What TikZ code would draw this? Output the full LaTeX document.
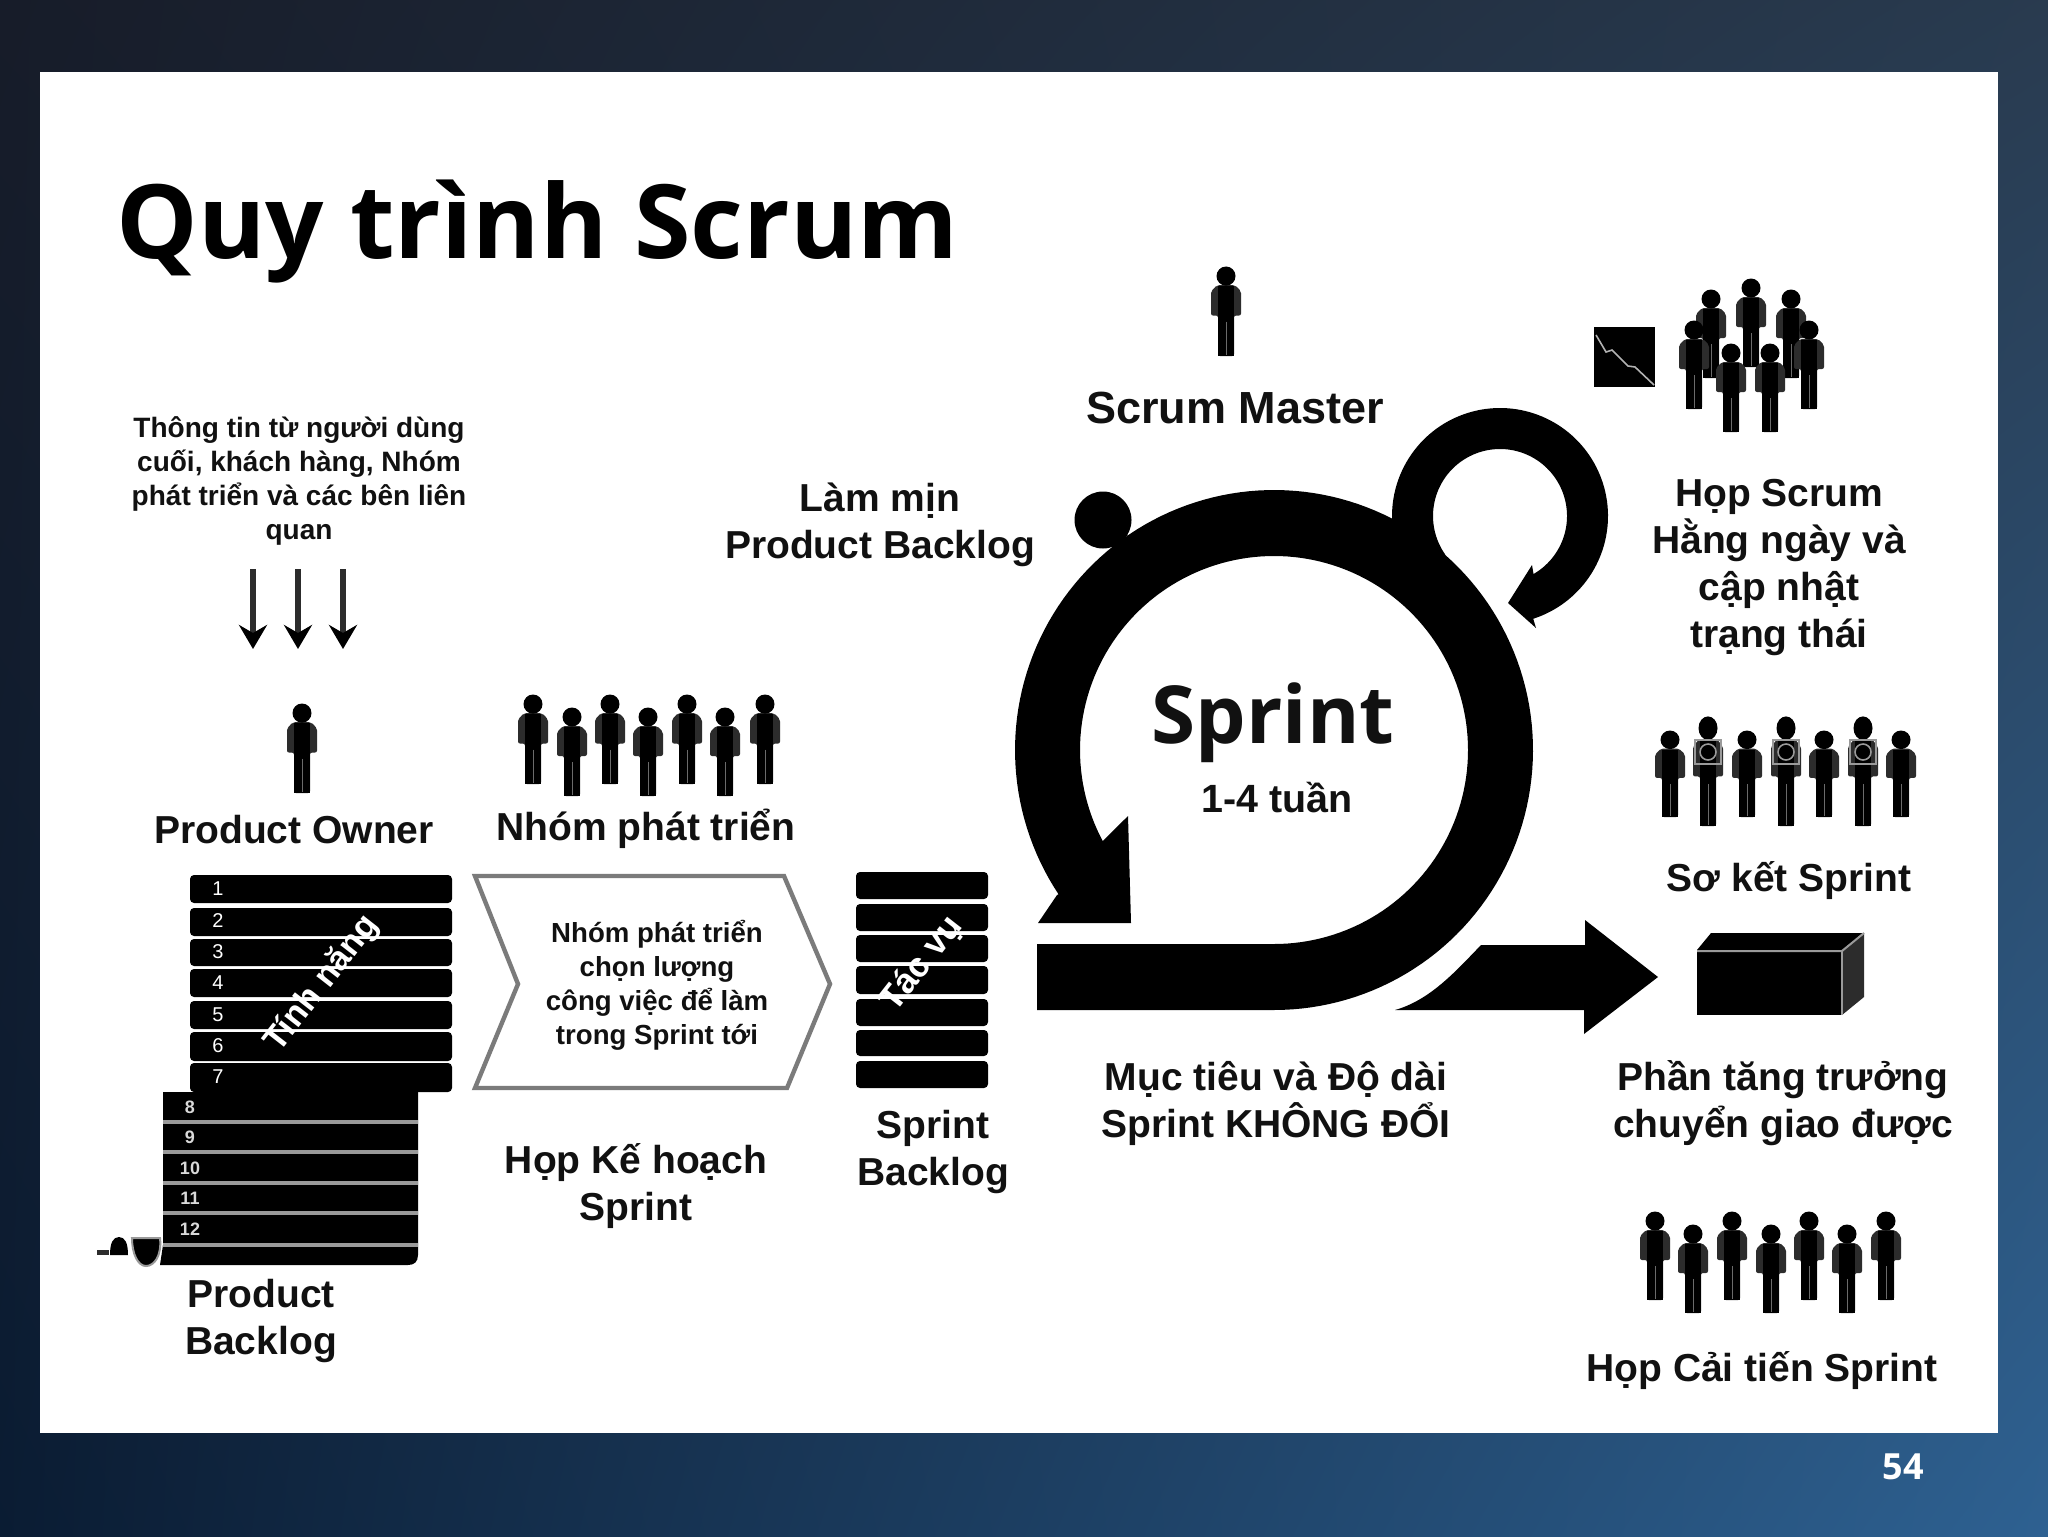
\documentclass[tikz,border=0pt]{standalone}
\usepackage{fontspec}
\setmainfont{Liberation Sans}
\newfontfamily\titlefont{Open Sans}
\usetikzlibrary{arrows.meta}
\pgfdeclarefunctionalshading{slidebg}{\pgfpointorigin}{\pgfpoint{100bp}{100bp}}{}{
 25 sub 50 div exch 25 sub 50 div exch
 2 copy 2 copy mul -0.07 mul 3 1 roll 0.05 mul exch 0.14 mul add add 0.04 add 3 1 roll
 2 copy 2 copy mul -0.15 mul 3 1 roll 0.0 mul exch 0.27 mul add add 0.11 add 3 1 roll
 2 copy mul -0.22 mul 3 1 roll -0.04 mul exch 0.37 mul add add 0.20 add
}
\definecolor{ink}{HTML}{111111}
\definecolor{armgrey}{HTML}{2C2C2C}
\definecolor{sepgrey}{HTML}{9A9A9A}
\tikzset{
  lbl/.style={font=\fontsize{19.5}{23.5}\selectfont\bfseries,text=ink,align=center,inner sep=0pt,yshift=-0.6pt},
  small/.style={font=\fontsize{14}{17}\selectfont\bfseries,text=ink,align=center,inner sep=0pt},
  rownum/.style={font=\fontsize{10}{10}\selectfont,text=white,inner sep=0pt},
  rownumb/.style={font=\fontsize{9}{9}\selectfont\bfseries,text=white!85!black,inner sep=0pt},
  slant/.style={font=\fontsize{17}{17}\selectfont\bfseries,text=white,inner sep=0pt,rotate=52},
  rowbar/.style={fill=black,rounded corners=2pt},
  thinarrow/.style={draw=armgrey,line width=2.8pt,-{Stealth[length=12pt,width=14pt,inset=4pt,color=black]}},
}
\newcommand{\personfig}[3]{%
 \begin{scope}[shift={(#1,#2)},yscale=#3/88]
  \fill[armgrey,rounded corners=1pt] (-15,48) -- (-15,24) -- (-9,18) -- (9,18) -- (15,24) -- (15,48) -- (8,48) -- (8,88) -- (-8,88) -- (-8,48) -- cycle;
  \fill[black] (-8,19) rectangle (8,88);
  \fill[black] (0,9) ellipse[x radius=9.5,y radius=9.5];
  \draw[armgrey!70!white,line width=0.5pt] (0,54) -- (0,87);
 \end{scope}}
\newcommand{\badge}[2]{%
 \draw[sepgrey,line width=0.8pt] (#1-13,#2-12) rectangle (#1+13,#2+12);
 \draw[sepgrey,line width=0.8pt] (#1,#2) circle[radius=8];}
\begin{document}
\begin{tikzpicture}[x=0.5pt,y=-0.5pt]
\useasboundingbox (0,0) rectangle (2048,1536);
\shade[shading=slidebg] (0,0) rectangle (2048,1536);
\fill[white] (40,72) rectangle (1998,1433);

\node[anchor=west,inner sep=0pt,font=\fontsize{51.3}{54}\selectfont\titlefont\bfseries,text=black] (title) at (116,232) {Quy trình Scrum};

% source text and arrows
\node[small] (src) at (299,481) {Thông tin từ người dùng\\cuối, khách hàng, Nhóm\\phát triển và các bên liên\\quan};
\coordinate (a1s) at (253,569); \coordinate (a1e) at (253,649);
\coordinate (a2s) at (298,569); \coordinate (a2e) at (298,649);
\coordinate (a3s) at (343,569); \coordinate (a3e) at (343,649);
\draw[thinarrow] (a1s) -- (a1e);
\draw[thinarrow] (a2s) -- (a2e);
\draw[thinarrow] (a3s) -- (a3e);

% people
\personfig{302}{704}{89}
\node[lbl] (po) at (294,828) {Product Owner};
\foreach \px/\py/\ph in {533/695/89,572/708/88,610/695/89,648/708/88,687/695/89,725/708/88,765/695/89}{\personfig{\px}{\py}{\ph}}
\node[lbl] (dev) at (646,828) {Nhóm phát triển};

% product backlog (top rows)
\foreach \ya/\yb in {875/903,908/936,939/966,969/997,1001/1029,1032/1061,1063/1092}{\fill[rowbar] (190,\ya) rectangle (452,\yb);}
\foreach \n/\yy in {1/889,2/921,3/952,4/983,5/1015,6/1046,7/1077}{\node[rownum] at (218,\yy) {\n};}
% product backlog (scroll)
\fill[black] (163,1092) -- (418,1092) -- (418,1255) .. controls (418,1262) and (414,1265) .. (408,1265) -- (160,1265) -- (163,1245) -- cycle;
\foreach \yy in {1122,1152,1183,1213,1245}{\draw[sepgrey,line width=2pt] (163,\yy) -- (418,\yy);}
\foreach \n/\yy in {8/1107,9/1137,10/1168,11/1198,12/1229}{\node[rownumb] at (190,\yy) {\n};}
\fill[black,draw=sepgrey,line width=1pt] (132,1238) -- (160,1238) .. controls (162,1256) and (154,1266) .. (146,1266) .. controls (138,1266) and (132,1254) .. (132,1238) -- cycle;
\fill[black] (110,1255) .. controls (110,1243) and (113,1237) .. (119,1237) .. controls (125,1237) and (128,1243) .. (128,1255) -- cycle;
\fill[armgrey] (97,1250) rectangle (109,1255);
\node[lbl] (pb) at (261,1320) {Product\\Backlog};
\node[slant] (feat) at (322,984) {Tính năng};

% chevron
\draw[sepgrey!80!black,line width=2.2pt,fill=white,line join=miter] (475,876) -- (784,876) -- (830,984) -- (787,1088) -- (475,1088) -- (518,984) -- cycle;
\node[small,font=\fontsize{13.8}{17}\selectfont\bfseries] (choose) at (657,985) {Nhóm phát triển\\chọn lượng\\công việc để làm\\trong Sprint tới};
\node[lbl] (plan) at (636,1185) {Họp Kế hoạch\\Sprint};

% sprint backlog
\foreach \ya/\yb in {872/899,904/931,935/962,966/994,999/1026,1030/1056,1061/1088}{\fill[rowbar] (856,\ya) rectangle (988,\yb);}
\node[slant,font=\fontsize{17.5}{17.5}\selectfont\bfseries] (task) at (922,964) {Tác vụ};
\node[lbl] (sb) at (933,1151) {Sprint\\Backlog};

% refinement
\node[lbl] (refine) at (880,524) {Làm mịn\\Product Backlog};

% sprint ring
\fill[black] (1037,944) -- (1274,944)
  -- plot[domain=270:568,samples=150] ({1274+194*cos(\x)},{750-194*sin(\x)})
  -- (1128,816) -- (1131,923) -- (1038,923) -- (1057,895)
  -- plot[domain=573.7:270,samples=150] ({1274+259*cos(\x)},{750-260*sin(\x)})
  -- (1037,1010) -- cycle;
\fill[black] (1103,520) circle[radius=28.5];
\fill[black] (1112,548) -- (1128,535) -- (1115,528) -- cycle;

% daily loop
\fill[black] (1440,560)
  -- plot[domain=215:-60,samples=110] ({1500+67*cos(\x)},{516-67*sin(\x)})
  -- (1532,565) -- (1508,603) -- (1536,628) -- (1533,618)
  -- plot[domain=-72:185,samples=110] ({1500+108*cos(\x)},{516-108*sin(\x)})
  -- (1400,560) -- cycle;

% exit arrow
\fill[black] (1395,1010) .. controls (1430,1000) and (1455,972) .. (1481,945) -- (1585,945) -- (1585,920) -- (1658,977) -- (1584,1034) -- (1584,1010) -- cycle;

\node[inner sep=0pt,font=\fontsize{40}{42}\selectfont\titlefont\bfseries,text=ink] (sprint) at (1273,723) {Sprint};
\node[lbl,font=\fontsize{19.7}{19.7}\selectfont\bfseries,yshift=1.2pt] (dur) at (1277,799) {1-4 tuần};
\node[lbl] (goal) at (1276,1102) {Mục tiêu và Độ dài\\Sprint KHÔNG ĐỔI};

% scrum master
\personfig{1226}{267}{89}
\node[lbl,font=\fontsize{22.5}{24}\selectfont\bfseries] (sm) at (1235,407) {Scrum Master};

% daily group
\foreach \px/\py in {1711/290,1751/279,1791/290,1694/321,1731/344,1770/344,1809/321}{\personfig{\px}{\py}{88}}
\fill[black] (1594,327) rectangle (1655,387);
\draw[white!70!black,line width=0.8pt] (1596,335) -- (1606,352) -- (1612,350) -- (1628,366) -- (1635,367) -- (1654,385);
\node[lbl] (daily) at (1779,566) {Họp Scrum\\Hằng ngày và\\cập nhật\\trạng thái};

% sprint review
\foreach \px in {1670,1747,1824,1901}{\personfig{\px}{731}{86}}
\foreach \px in {1708,1786,1863}{\personfig{\px}{717}{109}\badge{\px}{752}}
\node[lbl] (review) at (1789,879) {Sơ kết Sprint};

% increment
\fill[black] (1697,950) -- (1711,933) -- (1864,933) -- (1842,950) -- cycle;
\fill[armgrey] (1842,950) -- (1864,933) -- (1864,997) -- (1842,1015) -- cycle;
\fill[black] (1697,952) rectangle (1842,1015);
\draw[sepgrey,line width=1pt] (1697,951) -- (1842,951) -- (1864,933);
\draw[sepgrey,line width=1pt] (1842,951) -- (1842,1015);
\node[lbl] (inc) at (1783,1102) {Phần tăng trưởng\\chuyển giao được};

% retrospective
\foreach \px/\py in {1655/1212,1693/1225,1732/1212,1771/1225,1809/1212,1847/1225,1886/1212}{\personfig{\px}{\py}{88}}
\node[lbl] (retro) at (1762,1369) {Họp Cải tiến Sprint};

\node[inner sep=0pt,font=\fontsize{18}{18}\selectfont\titlefont\bfseries,text=white] (page) at (1903,1467) {54};
\end{tikzpicture}
\end{document}
